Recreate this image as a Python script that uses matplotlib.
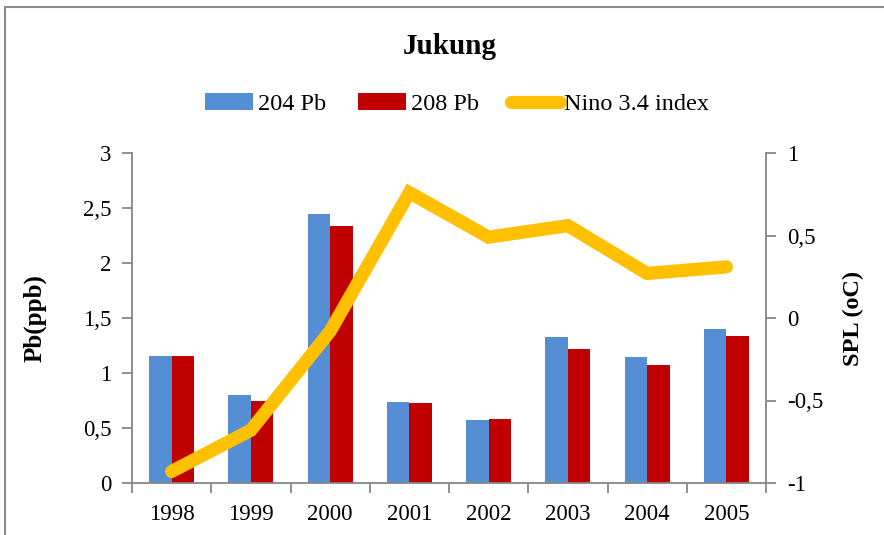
import numpy as np
import matplotlib.pyplot as plt
from matplotlib.patches import Rectangle

# values
years = ['1998', '1999', '2000', '2001', '2002', '2003', '2004', '2005']
pb204 = [1.155, 0.80, 2.445, 0.735, 0.575, 1.325, 1.145, 1.40]
pb208 = [1.155, 0.745, 2.335, 0.727, 0.582, 1.218, 1.073, 1.336]
nino34 = [-0.93, -0.68, -0.08, 0.76, 0.49, 0.56, 0.27, 0.31]

left_ticks = [0, 0.5, 1, 1.5, 2, 2.5, 3]
left_labels = ['0', '0,5', '1', '1,5', '2', '2,5', '3']
right_ticks = [-1, -0.5, 0, 0.5, 1]
right_labels = ['-1', '-0,5', '0', '0,5', '1']

plt.rcParams['font.family'] = ['Liberation Serif', 'DejaVu Serif']

fig = plt.figure(figsize=(8.84, 5.35), dpi=100)
ax = fig.add_axes([132 / 884, 1 - 483 / 535, (766 - 132) / 884, (483 - 153) / 535])
ax2 = ax.twinx()

x = np.arange(len(years))
w = 0.285
b1 = ax.bar(x - w / 2, pb204, w, color='#558ED5', label='204 Pb', zorder=2)
b2 = ax.bar(x + w / 2, pb208, w, color='#C00000', label='208 Pb', zorder=2)
ln, = ax2.plot(x, nino34, color='#FFC000', lw=9.5, solid_capstyle='round',
               solid_joinstyle='miter', label='Nino 3.4 index')

ax.set_xlim(-0.5, len(years) - 0.5)
ax.set_ylim(0, 3)
ax2.set_ylim(-1, 1)

spine_col = '#868686'
for a in (ax, ax2):
    a.spines['top'].set_visible(False)
    for s in ('left', 'right', 'bottom'):
        a.spines[s].set_color(spine_col)
        a.spines[s].set_linewidth(1.3)
ax.spines['right'].set_visible(False)
ax2.spines['left'].set_visible(False)
ax2.spines['bottom'].set_visible(False)

ax.set_yticks(left_ticks)
ax.set_yticklabels(left_labels)
ax2.set_yticks(right_ticks)
ax2.set_yticklabels(right_labels)

ax.set_xticks(np.arange(-0.5, len(years), 1))
ax.set_xticklabels([])
ax.set_xticks(x, minor=True)
ax.set_xticklabels(years, minor=True)
ax.tick_params(axis='x', which='major', length=7, width=1.3, color=spine_col)
ax.tick_params(axis='x', which='minor', length=0, pad=15, labelsize=16.5)
ax.tick_params(axis='y', length=7, width=1.3, color=spine_col, labelsize=16.5, pad=8)
ax2.tick_params(axis='y', length=7, width=1.3, color=spine_col, labelsize=16.5, pad=8)

ax.set_ylabel('Pb(ppb)', fontsize=18, fontweight='bold', labelpad=26)
ax2.set_ylabel('SPL (oC)', fontsize=17.5, fontweight='bold', labelpad=14)

fig.text(450 / 884, 1 - 47 / 535, 'Jukung', ha='center', va='center',
         fontsize=21, fontweight='bold')
fig.legend([b1, b2, ln], ['204 Pb', '208 Pb', 'Nino 3.4 index'],
           loc='center', bbox_to_anchor=(457 / 884, 1 - 104 / 535), ncol=3,
           frameon=False, fontsize=17.5, handlelength=2.0, handletextpad=0.2,
           columnspacing=1.3)

fig.patches.append(Rectangle((5 / 884, -0.1), 1.2, 1 - 7 / 535 + 0.1,
                             transform=fig.transFigure, fill=False,
                             edgecolor='#8c8c8c', lw=1.5))

fig.savefig('out.png', dpi=100)
